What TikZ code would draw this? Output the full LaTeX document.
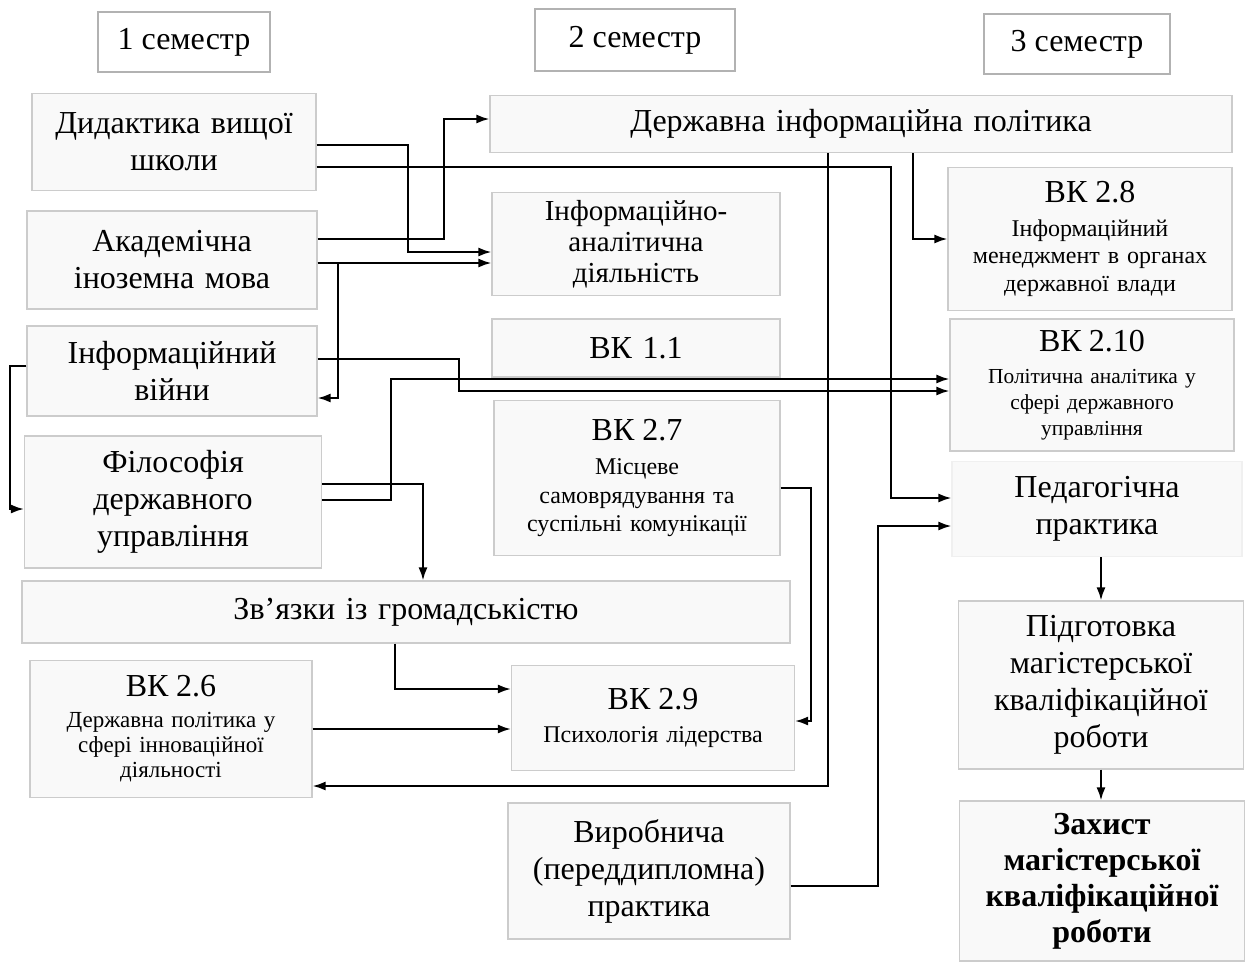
\documentclass[tikz,border=0pt]{standalone}
\usepackage{fontspec}
\setmainfont{Liberation Serif}
\usetikzlibrary{arrows.meta}
\tikzset{>={Latex[length=6.5pt,width=4.5pt]}}
\tikzset{
  box/.style={draw=gray!40,fill=gray!5,line width=.6pt,align=center,inner sep=2pt,
    text width=136pt,font=\fontsize{16}{18.5}\selectfont},
  vk/.style={box,font=\fontsize{12}{13.75}\selectfont},
  sem/.style={draw=gray!60,fill=white,line width=1.4pt,font=\fontsize{16}{18}\selectfont},
}
\def\vkhead#1{{\fontsize{16}{18}\selectfont ВК #1}\\[3pt]}
\def\elbow#1#2#3{
  \draw [->] (#1) -- ++(#2,0) |- (#3);
}

\begin{document}
\begin{tikzpicture}[x=0.5pt,y=-0.5pt,line width=.95pt]
\useasboundingbox (0,0) rectangle (1255,965);
\node[sem,minimum width=86pt,minimum height=30pt] (s1) at (184,42) {1 семестр};
\node[sem,minimum width=100pt,minimum height=31pt] (s2) at (635,40) {2 семестр};
\node[sem,minimum width=93pt,minimum height=30pt] (s3) at (1077,44) {3 семестр};
\node[box,minimum width=142pt,minimum height=48.5pt] (a1) at (174,142) {Дидактика вищої\\школи};
\node[box,minimum width=145pt,minimum height=49pt] (a2) at (172,260) {Академічна\\іноземна мова};
\node[box,minimum width=145pt,minimum height=45pt] (a3) at (172,371) {Інформаційний\\війни};
\node[box,minimum width=148.5pt,minimum height=66pt] (a4) at (173,502) {Філософія\\державного\\управління};
\node[box,minimum width=384pt,minimum height=31pt,text width=370pt] (a5) at (406,612) {Зв’язки із громадськістю};
\node[vk,font=\fontsize{11.5}{12.5}\selectfont,minimum width=141pt,minimum height=68.5pt] (a6) at (171,729) {\vkhead{2.6}Державна політика у\\сфері інноваційної\\діяльності};
\node[box,minimum width=371pt,minimum height=28.5pt,text width=360pt] (b1) at (861,124) {Державна інформаційна політика};
\node[box,font=\fontsize{14.5}{15.5}\selectfont,minimum width=144pt,minimum height=51.5pt] (b2) at (636,244) {Інформаційно-\\аналітична\\діяльність};
\node[box,minimum width=144pt,minimum height=29pt] (b3) at (636,348) {ВК 1.1};
\node[vk,font=\fontsize{12}{14.25}\selectfont,minimum width=143pt,minimum height=77.5pt] (b4) at (637,478) {\vkhead{2.7}Місцеве\\самоврядування та\\суспільні комунікації};
\node[vk,minimum width=141.5pt,minimum height=52.5pt] (b5) at (653,718) {\vkhead{2.9}Психологія лідерства};
\node[box,minimum width=141pt,minimum height=68pt] (b6) at (649,871) {Виробнича\\(переддипломна)\\практика};
\node[vk,minimum width=142pt,minimum height=71.5pt] (c1) at (1090,239) {\vkhead{2.8}Інформаційний\\менеджмент в органах\\державної влади};
\node[vk,font=\fontsize{10.7}{13}\selectfont,minimum width=142pt,minimum height=66pt] (c2) at (1092,385) {\vkhead{2.10}Політична аналітика у\\сфері державного\\управління};
\node[box,draw=gray!12,minimum width=145pt,minimum height=47.5pt] (c3) at (1097,509) {Педагогічна\\практика};
\node[box,minimum width=142.5pt,minimum height=84pt] (c4) at (1101,685) {Підготовка\\магістерської\\кваліфікаційної\\роботи};
\node[box,font=\fontsize{16}{18}\selectfont\bfseries,minimum width=142.5pt,minimum height=80pt] (c5) at (1102,881) {Захист\\магістерської\\кваліфікаційної\\роботи};
\elbow{[yshift=-1.5pt]a1.east}{91}{[yshift=-4pt]b2.west}
\elbow{[yshift=-12.5pt]a1.east}{574}{[yshift=5.5pt]c3.west}
\elbow{[yshift=10.5pt]a2.east}{126}{[yshift=2.5pt]b1.west}
\draw [->] ([yshift=-1.5pt]a2.east) -- ([yshift=-1.5pt]a2.east -| b2.west);
\elbow{[yshift=-1.5pt]a2.east}{20}{[yshift=-13.5pt]a3.east}
\elbow{[yshift=6pt]a3.east}{141}{[yshift=-3pt]c2.west}
\elbow{[yshift=2.5pt]a3.west}{-16}{[yshift=-3.5pt]a4.west}
\draw [->] ([yshift=9pt]a4.east) -| ([xshift=8.5pt]a5.north);
\elbow{[yshift=1pt]a4.east}{68.5}{[yshift=3pt]c2.west}
\draw [->] ([xshift=26pt]b1.south) |- (c1.west);
\draw [->] ([xshift=-16.5pt]b1.south) |- ([yshift=-28.5pt]a6.east);
\elbow{[yshift=-5pt]b4.east}{30}{[yshift=-1.5pt]b5.east}
\draw [->] ([xshift=-5.5pt]a5.south) |- ([yshift=14.5pt]b5.west);
\draw [->] (a6.east) -- (a6.east -| b5.west);
\elbow{[yshift=-7.5pt]b6.east}{87}{[yshift=-8.5pt]c3.west}
\draw [->] (c3.south -| c4.north) -- (c4.north);
\draw [->] (c4.south) -- (c4.south |- c5.north);
\end{tikzpicture}
\end{document}
